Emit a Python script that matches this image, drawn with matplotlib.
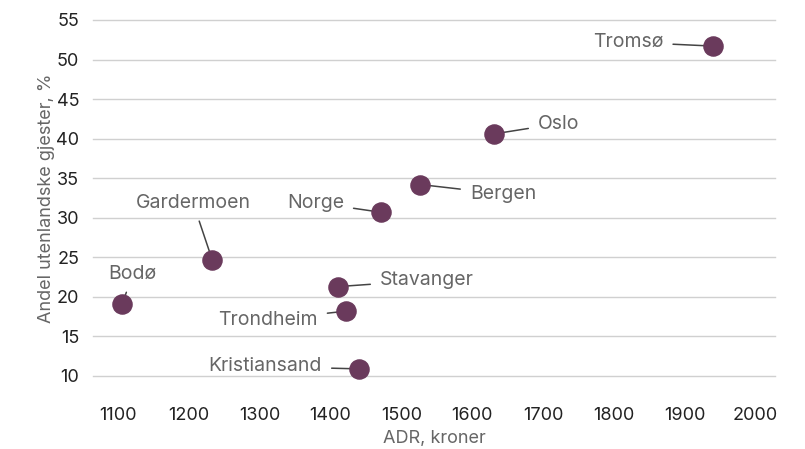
import matplotlib.pyplot as plt

plt.rcParams['font.family'] = ['Inter', 'DejaVu Sans']

# ADR (kroner) vs. share of foreign guests (%)
names = ["Tromsø", "Oslo", "Bergen", "Norge", "Gardermoen",
         "Bodø", "Stavanger", "Trondheim", "Kristiansand"]
adr = [1940, 1631, 1527, 1471, 1233, 1106, 1411, 1422, 1440]
share = [51.7, 40.6, 34.2, 30.7, 24.7, 19.1, 21.3, 18.2, 10.9]

# label positions (data coords) and alignment
label_x = [1870, 1693, 1597, 1419, 1206, 1121, 1470, 1382, 1388]
label_y = [52.2, 41.9, 33.0, 31.9, 31.9, 22.9, 22.1, 17.1, 11.2]
label_ha = ["right", "left", "left", "right", "center",
            "center", "left", "right", "right"]

fig = plt.figure(figsize=(8.05, 4.49), dpi=100)
ax = fig.add_axes([0.1155, 0.1626, 0.963 - 0.1155, 0.9555 - 0.1626])

ax.set_xlim(1064.7, 2028)
ax.set_ylim(10, 55)
ax.set_xticks(range(1100, 2001, 100))
ax.set_yticks(range(10, 56, 5))
ax.grid(axis='y', color='#d0d0d0', linewidth=1)
for gl in ax.get_ygridlines():
    gl.set_clip_on(False)
ax.set_axisbelow(True)
for s in ax.spines.values():
    s.set_visible(False)
ax.tick_params(axis='x', length=0, labelsize=13, colors='#222222', pad=22)
ax.tick_params(axis='y', length=0, labelsize=13, colors='#222222', pad=10)

ax.scatter(adr, share, s=190, color='#6a3a5c', zorder=4, clip_on=False)

for n, x, y, lx, ly, ha in zip(names, adr, share, label_x, label_y, label_ha):
    ax.annotate(n, xy=(x, y), xytext=(lx, ly), ha=ha, va='center',
                fontsize=14, color='#666666',
                arrowprops=dict(arrowstyle='-', color='#444444', lw=1.1,
                                shrinkA=5, shrinkB=0),
                zorder=3)

ax.set_xlabel("ADR, kroner", fontsize=13, color='#666666', labelpad=5)
ax.set_ylabel("Andel utenlandske gjester, %", fontsize=13, color='#666666', labelpad=1)

fig.savefig("out.png", dpi=100)
